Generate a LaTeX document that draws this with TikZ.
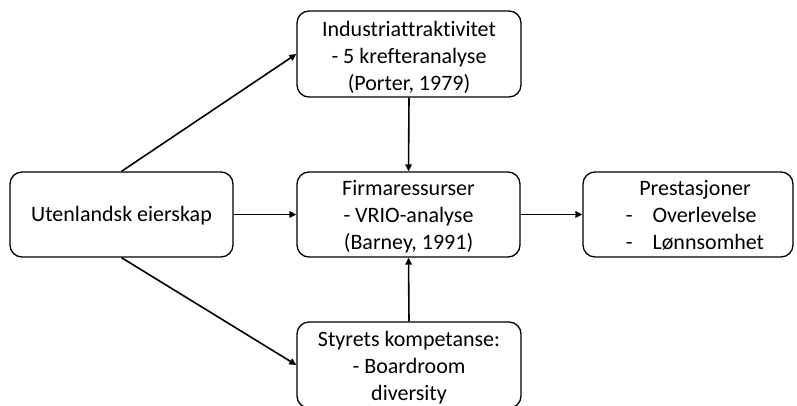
\documentclass[tikz,border=0pt]{standalone}
\usepackage{fontspec}
\setmainfont[Ligatures=NoCommon]{Carlito}
\usetikzlibrary{arrows.meta}
\begin{document}
\begin{tikzpicture}[x=1pt,y=-1pt,
  box/.style={draw=black, line width=1.3pt, rounded corners=12pt, inner sep=0pt},
  txt/.style={inner sep=0pt, align=center, font=\fontsize{22}{27}\selectfont},
  arr/.style={line width=1.6pt, -{Triangle[length=7pt,width=6.5pt]}}]
\useasboundingbox (0,0) rectangle (797,405);
\node[box, minimum width=224pt, minimum height=86pt] (T) at (409,54) {};
\node[txt] (Tt) at (409,57) {Industriattraktivitet\\- 5 krefteranalyse\\(Porter, 1979)};
\node[box, minimum width=223pt, minimum height=85pt] (L) at (121.5,214.5) {};
\node[txt] (Lt) at (121.5,215.5) {Utenlandsk eierskap};
\node[box, minimum width=223pt, minimum height=85pt] (M) at (408.5,214.5) {};
\node[txt] (Mt) at (408.5,217) {Firmaressurser\\- VRIO-analyse\\(Barney, 1991)};
\node[box, minimum width=210pt, minimum height=85pt] (R) at (688,214.5) {};
\node[txt] (Rt) at (695,217) {\begin{tabular}{@{}l@{\hspace{20pt}}l@{}}\multicolumn{2}{c}{Prestasjoner}\\-& Overlevelse\\-& Lønnsomhet\end{tabular}};
\node[box, minimum width=224pt, minimum height=86pt] (B) at (409,365) {};
\node[txt] (Bt) at (409,368) {Styrets kompetanse:\\- Boardroom\\diversity};
\draw[arr] (L.north) -- (T.west);
\draw[arr] (L.south) -- (B.west);
\draw[arr] (T.south) -- (M.north);
\draw[arr] (B.north) -- (M.south);
\draw[arr] (L.east) -- (M.west);
\draw[arr] (M.east) -- (R.west);
\end{tikzpicture}
\end{document}
